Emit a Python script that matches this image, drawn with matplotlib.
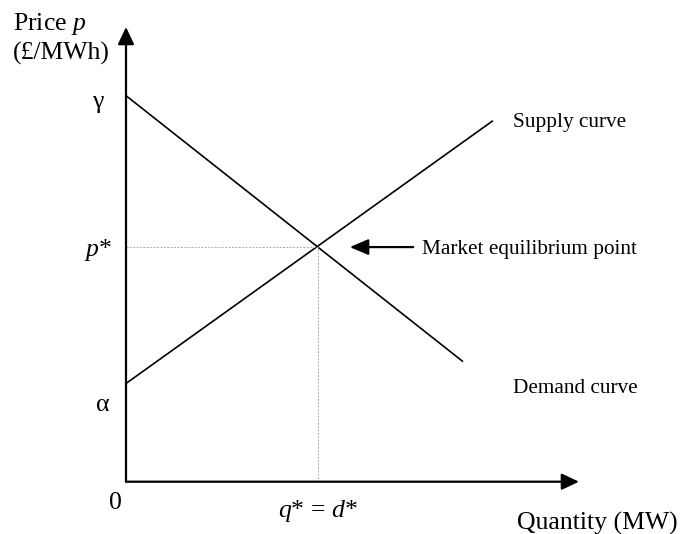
import matplotlib.pyplot as plt

plt.rcParams['font.family'] = ['Liberation Serif', 'DejaVu Serif']
plt.rcParams['mathtext.fontset'] = 'custom'
plt.rcParams['mathtext.rm'] = 'Liberation Serif'
plt.rcParams['mathtext.it'] = 'Liberation Serif:italic'

# supply / demand lines (quantity, price)
supply_q = [0, 8.10]
supply_p = [2.16, 7.94]
demand_q = [0, 7.44]
demand_p = [8.49, 2.64]

# equilibrium
q_star = 4.24
p_star = 5.16

axis_max = 10

fig = plt.figure(figsize=(6.83, 5.34), dpi=100)
ax = fig.add_axes([126 / 683, 52.3 / 534, 453 / 683, 454.7 / 534])
ax.set_xlim(0, axis_max)
ax.set_ylim(0, axis_max)
ax.axis('off')

# axes with arrows
arrow = dict(arrowstyle='-|>,head_length=0.7,head_width=0.33', color='black',
             lw=1.6, mutation_scale=15, shrinkA=0, shrinkB=0)
ax.annotate('', xy=(axis_max, 0), xytext=(0, 0), arrowprops=arrow, annotation_clip=False)
ax.annotate('', xy=(0, axis_max), xytext=(0, 0), arrowprops=arrow, annotation_clip=False)

# curves
ax.plot(supply_q, supply_p, color='black', lw=1.2, solid_capstyle='butt', clip_on=False)
ax.plot(demand_q, demand_p, color='black', lw=1.2, solid_capstyle='butt', clip_on=False)

# guide lines to equilibrium
ax.plot([0, q_star], [p_star, p_star], color='#aaaaaa', lw=0.7, ls=(0, (2, 1.5)))
ax.plot([q_star, q_star], [0, p_star], color='#aaaaaa', lw=0.7, ls=(0, (2, 1.5)))

# pointer to equilibrium
ax.annotate('', xy=(4.94, p_star), xytext=(6.34, p_star),
            arrowprops=dict(arrowstyle='-|>,head_length=0.75,head_width=0.32',
                            color='black', lw=1.6, mutation_scale=15,
                            shrinkA=0, shrinkB=0))

big = 18.5
small = 15.3
dy = -0.07  # nudge labels down a touch
ax.text(-2.49, 10.13 + dy, 'Price $p$', fontsize=big, ha='left', va='center', clip_on=False)
ax.text(-2.49, 9.49 + dy, '(£/MWh)', fontsize=big, ha='left', va='center', clip_on=False)
ax.text(-0.62, 8.43 + dy, 'γ', fontsize=big, ha='center', va='center')
ax.text(-0.31, p_star + dy, '$p$*', fontsize=big, ha='right', va='center')
ax.text(-0.51, 1.76 + dy, 'α', fontsize=big, ha='center', va='center')
ax.text(-0.24, -0.40 + dy, '0', fontsize=big, ha='center', va='center')
ax.text(q_star, -0.58 + dy, '$q$* = $d$*', fontsize=big, ha='center', va='center')
ax.text(8.63, -0.84 + dy, 'Quantity (MW)', fontsize=big, ha='left', va='center')
ax.text(8.54, 7.96 + dy, 'Supply curve', fontsize=small, ha='left', va='center')
ax.text(8.54, 2.13 + dy, 'Demand curve', fontsize=small, ha='left', va='center')
ax.text(6.53, 5.18 + dy, 'Market equilibrium point', fontsize=small, ha='left', va='center')

fig.savefig('out.png', dpi=100)
